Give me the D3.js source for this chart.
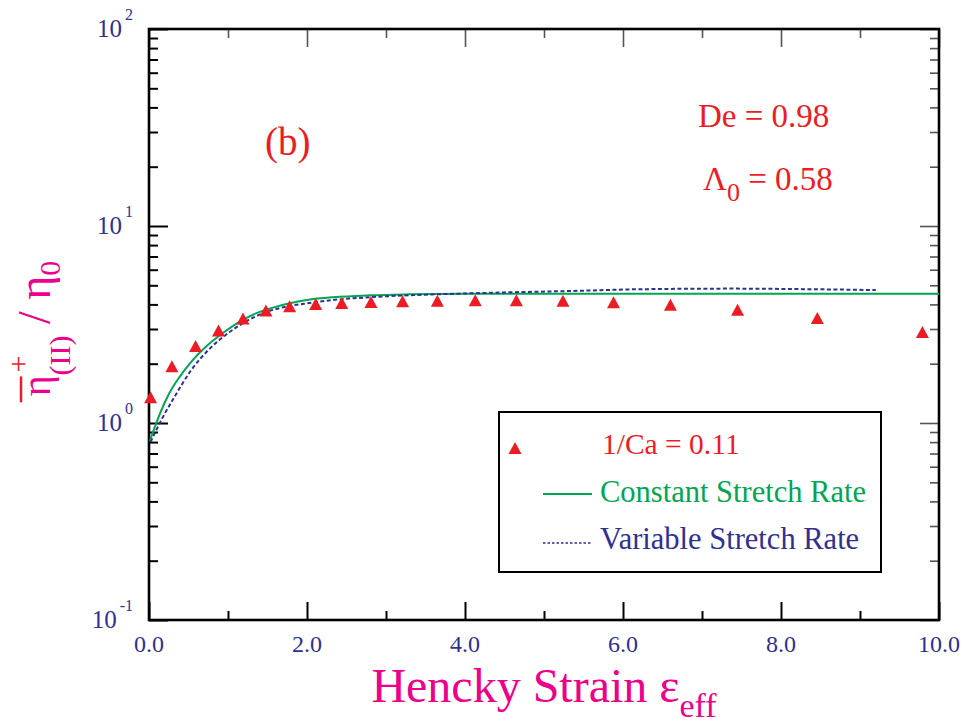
<!DOCTYPE html>
<html>
<head>
<meta charset="utf-8">
<script src="https://cdn.jsdelivr.net/npm/d3@7"></script>
<style>
  body { margin: 0; background: #fff; }
  svg { display: block; }
  text { font-family: "Liberation Serif", "Times New Roman", Times, serif; }
</style>
</head>
<body>
<svg id="chart" width="966" height="725"></svg>
<script>
// Measured transient extensional viscosity, 1/Ca = 0.11
const strainPts = [0.02, 0.29, 0.59, 0.88, 1.19, 1.48, 1.78, 2.11, 2.44, 2.81,
                   3.21, 3.65, 4.13, 4.65, 5.24, 5.88, 6.60, 7.45, 8.46, 9.79];
const viscPts   = [1.35, 1.94, 2.46, 2.95, 3.39, 3.72, 3.91, 4.02, 4.07, 4.11,
                   4.15, 4.18, 4.20, 4.20, 4.18, 4.10, 3.98, 3.76, 3.41, 2.90];

// Model prediction: constant stretch rate
const constStrain = [0.01, 0.076, 0.14, 0.25, 0.39, 0.55, 0.73, 0.94, 1.15, 1.36,
                     1.57, 1.78, 2.0, 2.33, 2.8, 3.3, 4.0, 5.0, 7.0, 10.0];
const constVisc   = [0.81, 0.96, 1.12, 1.40, 1.72, 2.08, 2.46, 2.87, 3.27, 3.61,
                     3.85, 4.05, 4.21, 4.35, 4.45, 4.50, 4.53, 4.53, 4.53, 4.53];

// Model prediction: variable stretch rate
const varStrain = [0.02, 0.08, 0.18, 0.31, 0.52, 0.73, 0.94, 1.15, 1.36, 1.57,
                   1.78, 2.0, 2.33, 2.8, 3.35, 4.06, 4.6, 5.46, 6.13, 7.39, 8.3, 9.2];
const varVisc   = [0.80, 0.90, 1.08, 1.33, 1.82, 2.30, 2.74, 3.14, 3.49, 3.75,
                   3.93, 4.05, 4.21, 4.35, 4.46, 4.55, 4.61, 4.69, 4.77, 4.81, 4.78, 4.73];

const xMajorTicks = [0, 2, 4, 6, 8, 10];
const xMinorTicks = [1, 3, 5, 7, 9];
const yDecades    = [0.1, 1, 10, 100];
const yExponents  = ["-1", "0", "1", "2"];

const legendLabels = ["1/Ca = 0.11", "Constant Stretch Rate", "Variable Stretch Rate"];

const MAGENTA = "#ec008c", RED = "#ed1c24", GREEN = "#00a651", NAVY = "#2e3192";

const svg = d3.select("#chart");
const plotL = 149, plotR = 939, plotT = 29, plotB = 620;

const x = d3.scaleLinear().domain([0, 10]).range([plotL, plotR]);
const y = d3.scaleLog().domain([0.1, 100]).range([plotB, plotT]);

const yMinor = [];
yDecades.slice(0, 3).forEach(d => { for (let k = 2; k <= 9; k++) yMinor.push(d * k); });

// ---- ticks on all four sides, pointing inward ----
function tickAxis(axis, tx, ty, len, width, color) {
  const g = svg.append("g").attr("transform", `translate(${tx},${ty})`)
    .call(axis.tickSize(len).tickFormat(""));
  g.select(".domain").remove();
  g.selectAll(".tick line").attr("stroke", color).attr("stroke-width", width);
  return g;
}
tickAxis(d3.axisBottom(x).tickValues(xMajorTicks), 0, plotB, -18, 2, "#000");
tickAxis(d3.axisBottom(x).tickValues(xMinorTicks), 0, plotB, -9, 2, "#000");
tickAxis(d3.axisTop(x).tickValues(xMajorTicks), 0, plotT, -18, 1.6, "#555");
tickAxis(d3.axisTop(x).tickValues(xMinorTicks), 0, plotT, -9, 1.6, "#555");
tickAxis(d3.axisLeft(y).tickValues(yDecades), plotL, 0, -19, 2, "#000");
tickAxis(d3.axisLeft(y).tickValues(yMinor), plotL, 0, -9, 2, "#000");
tickAxis(d3.axisRight(y).tickValues(yDecades), plotR, 0, -19, 1.6, "#555");
tickAxis(d3.axisRight(y).tickValues(yMinor), plotR, 0, -9, 1.6, "#555");

// ---- frame ----
svg.append("rect")
  .attr("x", plotL).attr("y", plotT)
  .attr("width", plotR - plotL).attr("height", plotB - plotT)
  .attr("fill", "none").attr("stroke", "#000").attr("stroke-width", 2.6);

// ---- tick labels ----
svg.append("g").selectAll("text").data(xMajorTicks).join("text")
  .attr("x", d => x(d)).attr("y", plotB + 32)
  .attr("text-anchor", "middle").attr("fill", NAVY)
  .style("font-size", "24px")
  .text(d => d3.format(".1f")(d));

const yl = svg.append("g").selectAll("text").data(yDecades).join("text")
  .attr("x", 133).attr("y", d => y(d) + 8)
  .attr("text-anchor", "end").attr("fill", NAVY)
  .style("font-size", "25px");
yl.append("tspan").text("10");
yl.append("tspan").attr("dx", 3).attr("dy", -17).style("font-size", "16px")
  .text((d, i) => yExponents[i]);

// ---- model curves ----
const line = d3.line().x(d => x(d[0])).y(d => y(d[1])).curve(d3.curveMonotoneX);
svg.append("path")
  .datum(constStrain.map((s, i) => [s, constVisc[i]]))
  .attr("d", line).attr("fill", "none")
  .attr("stroke", GREEN).attr("stroke-width", 2);
svg.append("path")
  .datum(varStrain.map((s, i) => [s, varVisc[i]]))
  .attr("d", line).attr("fill", "none")
  .attr("stroke", NAVY).attr("stroke-width", 2)
  .attr("stroke-dasharray", "4,2.5");

// ---- measured points (upward triangles) ----
function triangle(cx, cy, w, h) {
  return `M${cx},${cy - h / 2}L${cx + w / 2},${cy + h / 2}L${cx - w / 2},${cy + h / 2}Z`;
}
svg.append("g").selectAll("path").data(strainPts).join("path")
  .attr("d", (s, i) => triangle(x(s), y(viscPts[i]), 13, 12))
  .attr("fill", RED);

// ---- annotations ----
svg.append("text").attr("x", 265).attr("y", 155)
  .attr("fill", RED).style("font-size", "39px").text("(b)");
svg.append("text").attr("x", 698).attr("y", 127)
  .attr("fill", RED).style("font-size", "33px").text("De = 0.98");
const lam = svg.append("text").attr("x", 703).attr("y", 190)
  .attr("fill", RED).style("font-size", "33px");
lam.append("tspan").text("Λ");
lam.append("tspan").attr("dy", 11).style("font-size", "26px").text("0");
lam.append("tspan").attr("dy", -11).text(" = 0.58");

// ---- legend ----
const lg = svg.append("g");
lg.append("rect").attr("x", 499).attr("y", 412).attr("width", 382).attr("height", 160)
  .attr("fill", "#fff").attr("stroke", "#000").attr("stroke-width", 2);
lg.append("path").attr("d", triangle(515, 448, 13, 12)).attr("fill", RED);
lg.append("line").attr("x1", 543).attr("x2", 592).attr("y1", 494).attr("y2", 494)
  .attr("stroke", GREEN).attr("stroke-width", 2);
lg.append("line").attr("x1", 543).attr("x2", 592).attr("y1", 543).attr("y2", 543)
  .attr("stroke", NAVY).attr("stroke-width", 1.6).attr("stroke-dasharray", "2.5,2");
lg.selectAll("text").data(legendLabels).join("text")
  .attr("x", (d, i) => i === 0 ? 602 : 600)
  .attr("y", (d, i) => [454, 502, 549][i])
  .attr("fill", (d, i) => [RED, GREEN, NAVY][i])
  .style("font-size", (d, i) => i === 0 ? "29.5px" : "30.5px")
  .text(d => d);

// ---- axis titles ----
const xt = svg.append("text").attr("x", (plotL + plotR) / 2).attr("y", 702)
  .attr("text-anchor", "middle").attr("fill", MAGENTA).style("font-size", "48px");
xt.append("tspan").text("Hencky Strain ε");
xt.append("tspan").attr("dy", 15).style("font-size", "34px").text("eff");

const yg = svg.append("g").attr("transform", `translate(50,${(plotT + plotB) / 2 + 4}) rotate(-90)`);
const yt = yg.append("text").attr("text-anchor", "middle").attr("fill", MAGENTA)
  .style("font-size", "46px");
yt.append("tspan").style("font-size", "40px").text("η");
yt.append("tspan").attr("dx", 3).attr("dy", -22).style("font-size", "30px")
  .attr("fill", RED).text("+");
yt.append("tspan").attr("dx", -20).attr("dy", 42).style("font-size", "30px").text("(II)");
yt.append("tspan").attr("dy", -20).text(" / η");
yt.append("tspan").attr("dy", 10).style("font-size", "30px").text("0");

// overbar above the first η
const node = yt.node();
const s0 = node.getStartPositionOfChar(0), e0 = node.getEndPositionOfChar(0);
yg.append("line")
  .attr("x1", s0.x - 6).attr("x2", e0.x - 1)
  .attr("y1", s0.y - 29).attr("y2", s0.y - 29)
  .attr("stroke", RED).attr("stroke-width", 2.5);
</script>
</body>
</html>
